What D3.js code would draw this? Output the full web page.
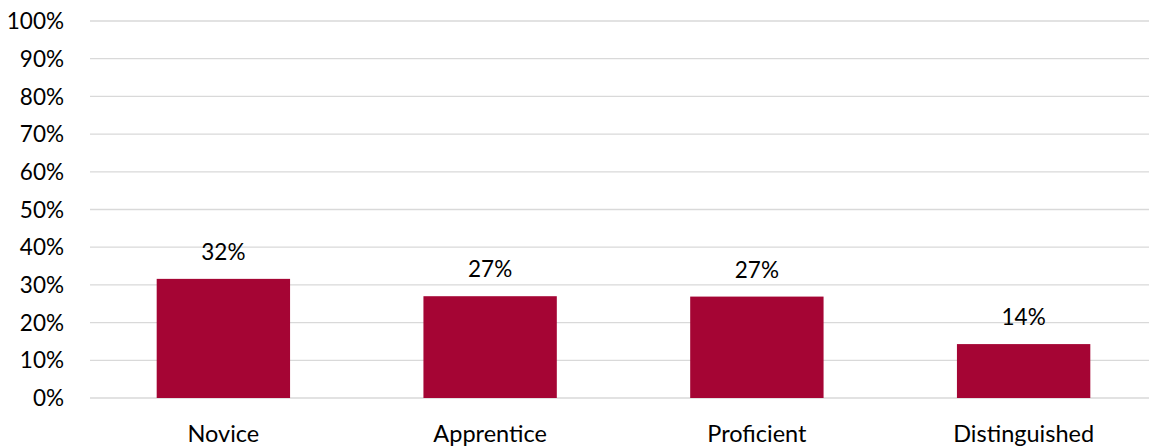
<!DOCTYPE html>
<html>
<head>
<meta charset="utf-8">
<script src="https://cdn.jsdelivr.net/npm/d3@7"></script>
<style>
  html, body { margin: 0; padding: 0; background: #fff; }
  svg { display: block; }
  text { font-family: Lato, "Open Sans", sans-serif; fill: #000; }
</style>
</head>
<body>
<svg id="chart" width="1149" height="446"></svg>
<script>
const categories = ["Novice", "Apprentice", "Proficient", "Distinguished"];
const values = [31.6, 27.0, 26.9, 14.3];
const valueLabels = ["32%", "27%", "27%", "14%"];
const yTicks = [0, 10, 20, 30, 40, 50, 60, 70, 80, 90, 100];

const W = 1149, H = 446;
const margin = { left: 90, right: -8, top: 21, bottom: 48 };
const svg = d3.select("#chart");

const x = d3.scaleBand()
  .domain(categories)
  .range([margin.left, W - margin.right])
  .paddingInner(0.5)
  .paddingOuter(0.25);

const y = d3.scaleLinear()
  .domain([0, 100])
  .range([H - margin.bottom, margin.top]);

// gridlines
svg.append("g")
  .selectAll("line")
  .data(yTicks)
  .join("line")
  .attr("x1", margin.left)
  .attr("x2", W)
  .attr("y1", d => y(d))
  .attr("y2", d => y(d))
  .attr("stroke", "#d9d9d9")
  .attr("stroke-width", 1.3);

// y axis labels
const yAxis = d3.axisLeft(y).tickValues(yTicks).tickFormat(d => d + "%").tickSize(0).tickPadding(0);
const gy = svg.append("g").attr("transform", "translate(64,0)").call(yAxis);
gy.select(".domain").remove();
gy.selectAll("text")
  .attr("font-size", 22.5)
  .attr("font-family", "Lato, 'Open Sans', sans-serif")
  .attr("fill", "#000")
  .attr("dy", "0.34em");

// bars
svg.append("g")
  .selectAll("rect")
  .data(categories)
  .join("rect")
  .attr("x", d => x(d))
  .attr("width", x.bandwidth())
  .attr("y", (d, i) => y(values[i]))
  .attr("height", (d, i) => y(0) - y(values[i]))
  .attr("fill", "#a50534");

// value labels
svg.append("g")
  .selectAll("text")
  .data(categories)
  .join("text")
  .attr("x", d => x(d) + x.bandwidth() / 2)
  .attr("y", (d, i) => y(values[i]) - 19)
  .attr("text-anchor", "middle")
  .attr("font-size", 22.5)
  .text((d, i) => valueLabels[i]);

// x axis labels
const xAxis = d3.axisBottom(x).tickSize(0).tickPadding(0);
const gx = svg.append("g").attr("transform", `translate(0,${y(0)})`).call(xAxis);
gx.select(".domain").remove();
gx.selectAll("text")
  .attr("font-size", 23.5)
  .attr("font-family", "Lato, 'Open Sans', sans-serif")
  .attr("fill", "#000")
  .attr("dy", null)
  .attr("y", 44);
</script>
</body>
</html>
